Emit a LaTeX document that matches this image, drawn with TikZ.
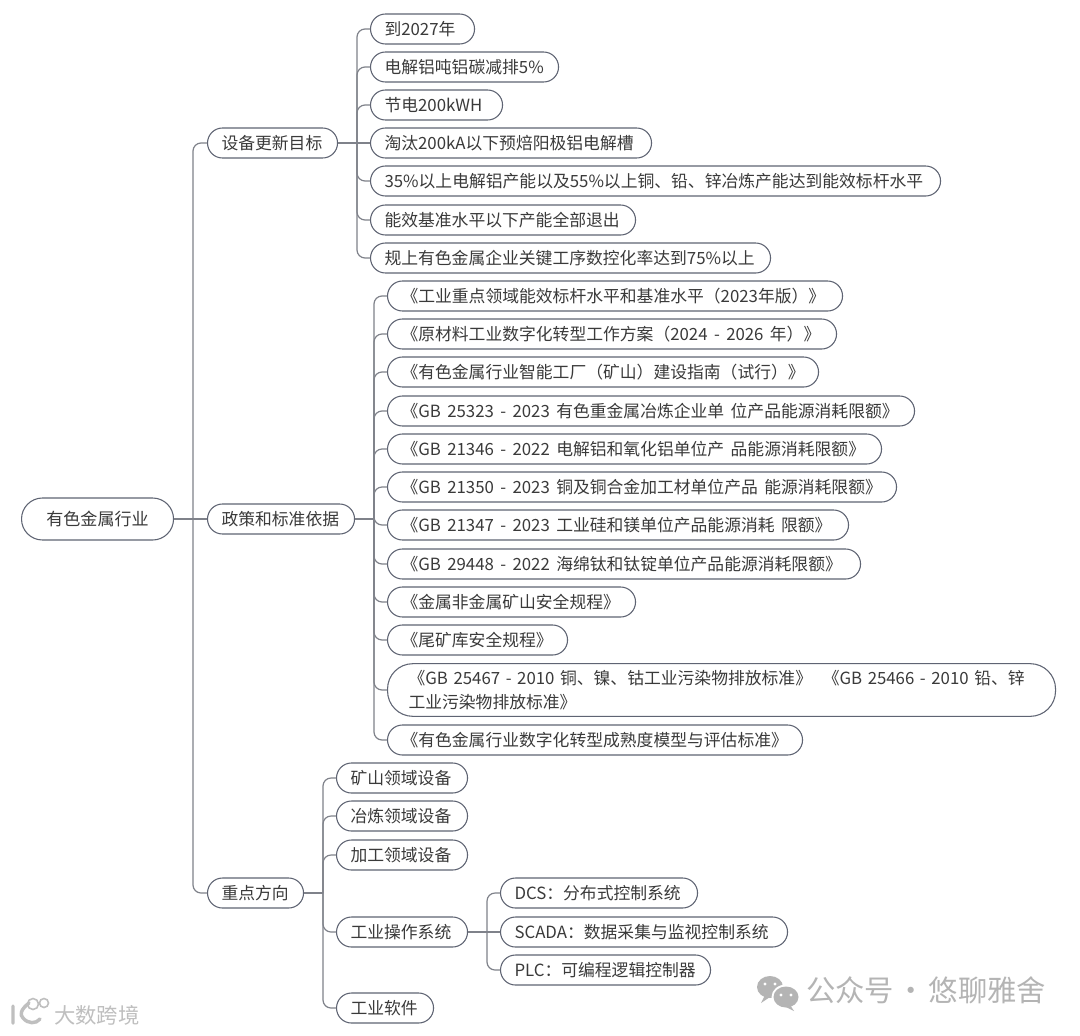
\documentclass[tikz,border=0pt]{standalone}
\usepackage{fontspec}
\setmainfont[WordSpace=1.7]{Noto Sans CJK SC}
\usetikzlibrary{shapes.misc}
\definecolor{pillc}{HTML}{5F6473}
\definecolor{connc}{HTML}{7F828A}
\definecolor{txtc}{HTML}{3A3A3A}
\definecolor{wmc}{HTML}{B4B4B4}
\tikzset{
  pill/.style={rectangle,rounded corners=11.2pt,draw=pillc,line width=0.8pt,text=txtc,anchor=west,
    inner xsep=10.5pt,inner ysep=0pt,minimum height=22.5pt,font=\fontsize{12.6}{15}\selectfont},
  conn/.style={draw=connc,line width=0.9pt,rounded corners=6pt},
  wmark/.style={text=wmc,inner sep=0pt}
}
\newcommand{\pillnode}[5]{\node[pill] (#1) at (#2,#4) {\makebox[\dimexpr(#3pt-#2pt-28pt)*3/4\relax][l]{#5}};}
\begin{document}
\begin{tikzpicture}[x=0.75pt,y=-0.75pt]
\useasboundingbox (0,0) rectangle (1080,1035);
\fill[white] (0,0) rectangle (1080,1035);
% root and first level
\node[pill,rounded corners=15.7pt,minimum width={152*0.75pt},minimum height=31.5pt,font=\fontsize{12.8}{15}\selectfont] (root) at (21,519) {有色金属行业};
\pillnode{goal}{207}{337}{143}{设备更新目标}
\pillnode{policy}{207}{354}{519}{政策和标准依据}
\pillnode{focus}{207}{303}{893}{重点方向}
% goals
\pillnode{g1}{370}{474}{29}{到2027年}
\pillnode{g2}{370}{558}{67}{电解铝吨铝碳减排5\%}
\pillnode{g3}{370}{502}{105}{节电200kWH}
\pillnode{g4}{370}{651}{143}{淘汰200kA以下预焙阳极铝电解槽}
\pillnode{g5}{370}{940}{181}{35\%以上电解铝产能以及55\%以上铜、铅、锌冶炼产能达到能效标杆水平}
\pillnode{g6}{370}{635}{220}{能效基准水平以下产能全部退出}
\pillnode{g7}{370}{770}{258}{规上有色金属企业关键工序数控化率达到75\%以上}
% policy
\pillnode{p1}{387}{842}{296}{《工业重点领域能效标杆水平和基准水平（2023年版）》}
\pillnode{p2}{387}{836}{334}{《原材料工业数字化转型工作方案（2024 - 2026 年）》}
\pillnode{p3}{387}{818}{372}{《有色金属行业智能工厂（矿山）建设指南（试行）》}
\pillnode{p4}{387}{914}{411}{《GB 25323 - 2023 有色重金属冶炼企业单 位产品能源消耗限额》}
\pillnode{p5}{387}{881}{449}{《GB 21346 - 2022 电解铝和氧化铝单位产 品能源消耗限额》}
\pillnode{p6}{387}{896}{487}{《GB 21350 - 2023 铜及铜合金加工材单位产品 能源消耗限额》}
\pillnode{p7}{387}{848}{525}{《GB 21347 - 2023 工业硅和镁单位产品能源消耗 限额》}
\pillnode{p8}{387}{860}{564}{《GB 29448 - 2022 海绵钛和钛锭单位产品能源消耗限额》}
\pillnode{p9}{387}{635}{602}{《金属非金属矿山安全规程》}
\pillnode{p10}{387}{567}{640}{《尾矿库安全规程》}
\node[pill,rounded corners=19pt,inner xsep=15.75pt,minimum height=39.5pt,text width={626*0.75pt},align=left,font=\fontsize{12.6}{18.5}\selectfont] (p11) at (387,690) {《GB 25467 - 2010 铜、镍、钴工业污染物排放标准》\hspace{8pt}《GB 25466 - 2010 铅、锌\\工业污染物排放标准》};
\pillnode{p12}{387}{802}{740}{《有色金属行业数字化转型成熟度模型与评估标准》}
% focus
\pillnode{f1}{336}{467}{778}{矿山领域设备}
\pillnode{f2}{336}{467}{816}{冶炼领域设备}
\pillnode{f3}{336}{467}{855}{加工领域设备}
\pillnode{f4}{336}{467}{932}{工业操作系统}
\pillnode{f5}{336}{433}{1008}{工业软件}
\pillnode{s1}{500}{697}{893}{DCS：分布式控制系统}
\pillnode{s2}{500}{787}{932}{SCADA：数据采集与监视控制系统}
\pillnode{s3}{500}{710}{970}{PLC：可编程逻辑控制器}
% junctions
\coordinate (brootj) at (193,519);
\coordinate (bgoalj) at (357,143);
\coordinate (bpolj) at (374,519);
\coordinate (bfocj) at (323,893);
\coordinate (bsysj) at (487,932);
% connectors
\draw[conn] (root.east) -- (brootj);
\draw[conn] (brootj) |- (goal.west);
\draw[conn] (brootj) -- (policy.west);
\draw[conn] (brootj) |- (focus.west);
\draw[conn] (goal.east) -- (g4.west);
\foreach \n in {g1,g2,g3,g5,g6,g7} \draw[conn] (bgoalj) |- (\n.west);
\draw[conn] (policy.east) -- (bpolj);
\foreach \n in {p1,p2,p3,p4,p5,p6,p7,p8,p9,p10,p11,p12} \draw[conn] (bpolj) |- (\n.west);
\draw[conn] (focus.east) -- (bfocj);
\foreach \n in {f1,f2,f3,f4,f5} \draw[conn] (bfocj) |- (\n.west);
\draw[conn] (f4.east) -- (s2.west);
\foreach \n in {s1,s3} \draw[conn] (bsysj) |- (\n.west);
% watermarks
\fill[wmc] (770,987) ellipse (13 and 11);
\fill[wmc] (764,997) -- (761,1003) -- (770,997) -- cycle;
\fill[white] (786,997) ellipse (14.5 and 12.5);
\fill[wmc] (786,997) ellipse (12.5 and 10.5);
\fill[wmc] (790,1005) -- (794,1011) -- (784,1006) -- cycle;
\fill[white] (765,984) circle (1.6) (775,984) circle (1.6) (781,995) circle (1.6) (791,995) circle (1.6);
\node[wmark,anchor=west,font=\fontsize{22}{24}\selectfont] (wm1) at (806,990) {公众号\hspace{2pt}·\hspace{2pt}悠聊雅舍};
\node[wmark,anchor=west,text=wmc!85,font=\fontsize{16}{18}\selectfont] (wm2) at (54,1015) {大数跨境};
\draw[wmc!85,line width=2.6pt,line cap=round] (13,1006) -- (13,1023) (29,1003) .. controls (20,1010) and (20,1015) .. (23,1018) .. controls (28,1024) and (36,1024) .. (40,1019);
\draw[wmc!85,line width=1.2pt] (33,1004) circle (5.5) (44,1003) circle (4.5);
\end{tikzpicture}
\end{document}
